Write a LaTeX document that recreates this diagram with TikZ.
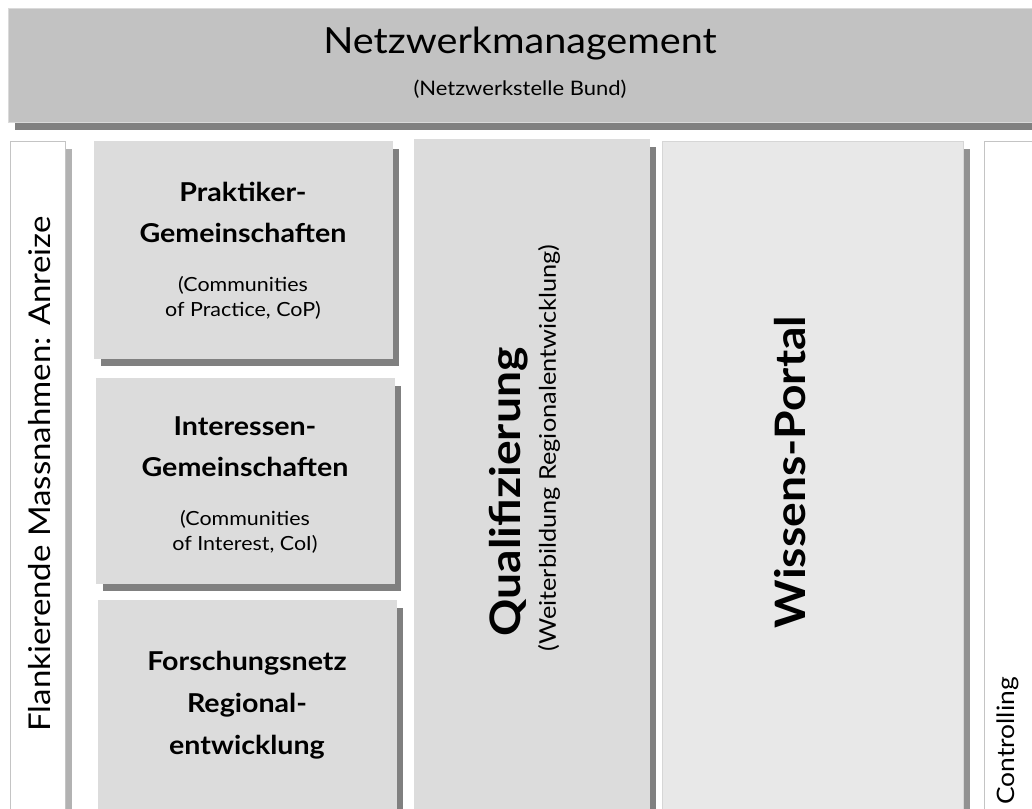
\documentclass[tikz,border=0pt]{standalone}
\usepackage{fontspec}
\setmainfont{Lato}[FakeStretch=1.1]
\usetikzlibrary{shadows}
\definecolor{hdrfill}{HTML}{C2C2C2}
\definecolor{hdredge}{HTML}{DADADA}
\definecolor{darkshade}{HTML}{808080}
\definecolor{midshade}{HTML}{929292}
\definecolor{lightshade}{HTML}{B2B2B2}
\definecolor{boxfill}{HTML}{DCDCDC}
\definecolor{portalfill}{HTML}{E8E8E8}
\definecolor{portaledge}{HTML}{D6D6D6}
\definecolor{frameedge}{HTML}{C4C4C4}
\tikzset{
  panel/.style={rectangle, inner sep=0pt, outer sep=0pt, line width=1pt, align=center, anchor=north west},
  shade/.style={drop shadow={shadow xshift=7pt, shadow yshift=-8pt, fill=#1, opacity=1}},
  headerbox/.style={panel, fill=hdrfill, draw=hdredge, shade=darkshade},
  sidebox/.style={panel, fill=white, draw=frameedge, shade=lightshade},
  groupbox/.style={panel, fill=boxfill, draw=boxfill, shade=darkshade},
  portalbox/.style={panel, fill=portalfill, draw=portaledge, shade=midshade},
  endbox/.style={panel, fill=white, draw=frameedge},
  title/.style={font=\bfseries\fontsize{26}{43}\selectfont, align=center},
  subtitle/.style={font=\fontsize{19.5}{25}\selectfont, align=center},
  vtext/.style={rotate=90, inner sep=0pt},
  columnhead/.style={vtext, font=\bfseries\fontsize{42}{46}\selectfont},
  sidelabel/.style={vtext, font=\fontsize{30}{34}\selectfont}
}
\begin{document}
\begin{tikzpicture}[x=1pt, y=-1pt]
  \useasboundingbox (0,0) rectangle (1032,808);
  \clip (0,0) rectangle (1032,808);

  % top bar
  \node[headerbox, minimum width=1030pt, minimum height=113pt] (hdr) at (8,9) {};
  \node[font=\fontsize{36}{40}\selectfont, inner sep=0pt] (hdrtitle) at (520,44) {Netzwerkmanagement};
  \node[font=\fontsize{20}{22}\selectfont, inner sep=0pt] (hdrsub) at (520,89) {(Netzwerkstelle Bund)};

  % left frame
  \node[sidebox, minimum width=55pt, minimum height=680pt] (flank) at (10,141) {};
  \node[sidelabel] (flanktext) at (40,474) {Flankierende Massnahmen: Anreize};

  % the three communities
  \node[groupbox, minimum width=298pt, minimum height=217pt] (cop) at (94,141) {};
  \node[title] (coptitle) at (243,212) {Praktiker-\\[-2pt]Gemeinschaften};
  \node[subtitle] (copsub) at (243,298) {(Communities\\of Practice, CoP)};

  \node[groupbox, minimum width=298pt, minimum height=205pt] (coi) at (96,378) {};
  \node[title] (coititle) at (245,447) {Interessen-\\[-2pt]Gemeinschaften};
  \node[subtitle] (coisub) at (245,532) {(Communities\\of Interest, CoI)};

  \node[groupbox, minimum width=298pt, minimum height=220pt] (fnr) at (98,600) {};
  \node[title] (fnrtitle) at (247,705) {Forschungsnetz\\[-1pt]Regional-\\[-1pt]entwicklung};

  % qualification column
  \node[groupbox, minimum width=235pt, minimum height=680pt] (qual) at (414,139) {};
  \node[columnhead] (qualtext) at (509,492) {Qualifizierung};
  \node[vtext, font=\fontsize{23}{26}\selectfont] (qualsub) at (549,448) {(Weiterbildung Regionalentwicklung)};

  % knowledge portal column
  \node[portalbox, minimum width=301pt, minimum height=680pt] (portal) at (662,141) {};
  \node[columnhead] (portaltext) at (790,472) {Wissens-Portal};

  % right frame
  \node[endbox, minimum width=60pt, minimum height=680pt] (ctrl) at (984,141) {};
  \node[vtext, font=\fontsize{24}{28}\selectfont] (ctrltext) at (1008,741) {Controlling};
\end{tikzpicture}
\end{document}
